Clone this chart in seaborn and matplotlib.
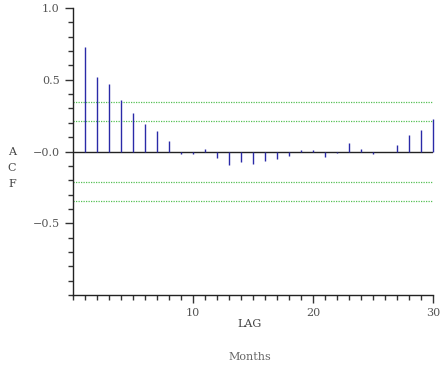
import numpy as np
import pandas as pd
import seaborn as sns
import matplotlib.pyplot as plt
from matplotlib.ticker import MultipleLocator

# ACF values
lags = list(range(1, 31))
acf = [0.727, 0.52, 0.47, 0.36, 0.27, 0.19, 0.14, 0.07, -0.02, -0.02,
       0.015, -0.045, -0.095, -0.075, -0.085, -0.068, -0.055, -0.028, 0.007, 0.007,
       -0.04, -0.012, 0.056, 0.014, -0.019, 0.0, 0.045, 0.112, 0.147, 0.224]
inner_band = 0.21
outer_band = 0.345

df = pd.DataFrame({"lag": lags, "acf": acf})

sns.set_style("white")
plt.rcParams["font.family"] = ["DejaVu Serif"]

fig = plt.figure(figsize=(4.41, 3.71), dpi=100)
ax = fig.add_axes([73 / 441, 76 / 371, 360 / 441, 287 / 371])

ax.vlines(df["lag"], 0, df["acf"], color="#2a2aa8", linewidth=1.0, clip_on=False, zorder=3)
ax.axhline(0, color="#222222", linewidth=1.0)
for b in (inner_band, outer_band):
    ax.axhline(b, color="#55c055", linewidth=0.9, linestyle=(0, (1, 1)))
    ax.axhline(-b, color="#55c055", linewidth=0.9, linestyle=(0, (1, 1)))

ax.set_xlim(0, 30)
ax.set_ylim(-1.0, 1.0)
ax.set_xticks([10, 20, 30])
ax.xaxis.set_minor_locator(MultipleLocator(1))
ax.set_yticks([-0.5, 0.0, 0.5, 1.0])
ax.set_yticklabels(["\u22120.5", "\u22120.0", "0.5", "1.0"])
ax.yaxis.set_minor_locator(MultipleLocator(0.1))

sns.despine(ax=ax, top=True, right=True)
for s in ("left", "bottom"):
    ax.spines[s].set_color("#222222")
    ax.spines[s].set_linewidth(1.0)

ax.tick_params(axis="both", which="both", direction="out", color="#333333",
               labelsize=8, labelcolor="#555555", bottom=True, left=True)
ax.tick_params(axis="both", which="major", length=6, width=1)
ax.tick_params(axis="both", which="minor", length=3.5, width=1)
ax.tick_params(axis="x", pad=3)

fig.text(12 / 441, 1 - 168 / 371, "A\nC\nF", ha="center", va="center",
         fontsize=8, color="#444444", linespacing=1.75)
fig.text(250 / 441, 1 - 324 / 371, "LAG", ha="center", va="center",
         fontsize=8, color="#444444")
fig.text(250 / 441, 1 - 357 / 371, "Months", ha="center", va="center",
         fontsize=8, color="#666666")

fig.savefig("out.png", dpi=100)
